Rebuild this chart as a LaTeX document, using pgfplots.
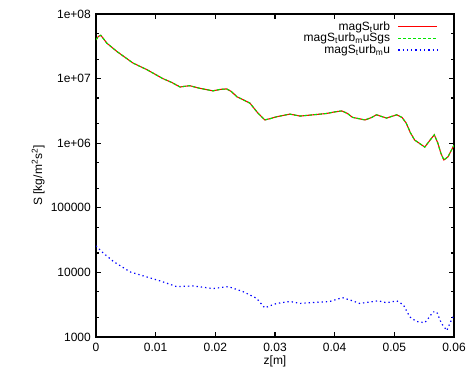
\documentclass[border=0pt]{standalone}
\usepackage{pgfplots}
\pgfplotsset{compat=1.18}
\usepackage{fontspec}
\setmainfont{Liberation Sans}
\begin{document}
\fontsize{12bp}{13bp}\selectfont
\begin{tikzpicture}
\begin{axis}[
  at={(0,0)}, anchor=south west,
  scale only axis, width=358bp, height=323bp,
  xmin=0, xmax=0.06, ymin=1000, ymax=1e8,
  ymode=log,
  scaled x ticks=false,
  axis line style={line width=1.6bp},
  every tick/.style={black, line width=1.2bp},
  major tick length=5bp, minor tick length=3bp,
  tick align=inside,
  xtick={0,0.01,0.02,0.03,0.04,0.05,0.06},
  xticklabels={0,0.01,0.02,0.03,0.04,0.05,0.06},
  ytick={1e3,1e4,1e5,1e6,1e7,1e8},
  yticklabels={1000,10000,100000,1e+06,1e+07,1e+08},
  minor ytick={2e3,5e3,2e4,5e4,2e5,5e5,2e6,5e6,2e7,5e7},
  /pgf/number format/assume math mode=true,
  ticklabel style={font=\fontsize{12bp}{13bp}\selectfont},
  xticklabel style={yshift=-2bp},
  yticklabel style={xshift=-1bp},
  xlabel={z[m]}, ylabel={S [kg/m\textsuperscript{2}s\textsuperscript{2}]},
  label style={font=\fontsize{12bp}{13bp}\selectfont},
  xlabel style={yshift=4bp},
  ylabel style={yshift=-2bp},
  legend plot pos=right,
  legend cell align=right,
  legend style={at={(1,1)}, anchor=north east, xshift=-13bp, yshift=-4bp,
    draw=none, fill=none, font=\fontsize{12bp}{12bp}\selectfont,
    row sep=-2bp, column sep=6bp, nodes={inner sep=1.5bp}},
  legend image code/.code={\draw[#1] (0bp,0bp) -- (39bp,0bp);},
]
\addplot[red, line width=1.1bp] coordinates {
(0.0000,3.98e7)(0.0004,4.50e7)(0.0008,4.68e7)(0.0013,4.10e7)(0.0018,3.55e7)(0.0035,2.63e7)(0.0062,1.74e7)
(0.0085,1.38e7)(0.0112,1.00e7)(0.0127,8.71e6)(0.0141,7.41e6)(0.0149,7.60e6)(0.0157,7.76e6)
(0.0174,7.08e6)(0.0196,6.46e6)(0.0208,6.80e6)(0.0219,6.92e6)(0.0227,6.30e6)(0.0236,5.25e6)(0.0258,4.17e6)
(0.0271,2.95e6)(0.0283,2.29e6)(0.0292,2.40e6)(0.0303,2.57e6)(0.0325,2.82e6)(0.0342,2.63e6)
(0.0386,2.88e6)(0.0400,3.05e6)(0.0412,3.16e6)(0.0421,2.90e6)(0.0430,2.51e6)(0.0451,2.29e6)(0.0462,2.50e6)(0.0470,2.75e6)
(0.0487,2.45e6)(0.0504,2.75e6)(0.0513,2.50e6)(0.0520,2.04e6)(0.0527,1.45e6)(0.0534,1.12e6)(0.0551,8.71e5)
(0.0561,1.15e6)(0.0567,1.35e6)(0.0573,1.00e6)(0.0578,7.00e5)(0.0583,5.50e5)(0.0590,6.17e5)(0.0600,9.33e5)
};
\addlegendentry{magS\textsubscript{t}urb}
\addplot[green!90!black, line width=1.1bp, dash pattern=on 3bp off 2bp] coordinates {
(0.0000,3.98e7)(0.0004,4.50e7)(0.0008,4.68e7)(0.0013,4.10e7)(0.0018,3.55e7)(0.0035,2.63e7)(0.0062,1.74e7)
(0.0085,1.38e7)(0.0112,1.00e7)(0.0127,8.71e6)(0.0141,7.41e6)(0.0149,7.60e6)(0.0157,7.76e6)
(0.0174,7.08e6)(0.0196,6.46e6)(0.0208,6.80e6)(0.0219,6.92e6)(0.0227,6.30e6)(0.0236,5.25e6)(0.0258,4.17e6)
(0.0271,2.95e6)(0.0283,2.29e6)(0.0292,2.40e6)(0.0303,2.57e6)(0.0325,2.82e6)(0.0342,2.63e6)
(0.0386,2.88e6)(0.0400,3.05e6)(0.0412,3.16e6)(0.0421,2.90e6)(0.0430,2.51e6)(0.0451,2.29e6)(0.0462,2.50e6)(0.0470,2.75e6)
(0.0487,2.45e6)(0.0504,2.75e6)(0.0513,2.50e6)(0.0520,2.04e6)(0.0527,1.45e6)(0.0534,1.12e6)(0.0551,8.71e5)
(0.0561,1.15e6)(0.0567,1.35e6)(0.0573,1.00e6)(0.0578,7.00e5)(0.0583,5.50e5)(0.0590,6.17e5)(0.0600,9.33e5)
};
\addlegendentry{magS\textsubscript{t}urb\textsubscript{m}uSgs}
\addplot[blue, line width=1.2bp, dash pattern=on 1.3bp off 3bp] coordinates {
(0.0000,2.57e4)(0.0012,2.00e4)(0.0029,1.48e4)(0.0057,1.02e4)(0.0085,8.51e3)
(0.0107,7.41e3)(0.0135,6.03e3)(0.0163,6.17e3)(0.0196,5.62e3)(0.0222,6.03e3)
(0.0247,5.01e3)(0.0269,3.98e3)(0.0283,2.82e3)(0.0292,3.05e3)(0.0303,3.31e3)(0.0325,3.55e3)
(0.0342,3.31e3)(0.0392,3.55e3)(0.0413,4.07e3)(0.0427,3.70e3)(0.0442,3.31e3)(0.0473,3.63e3)
(0.0487,3.39e3)(0.0504,3.63e3)(0.0515,3.16e3)(0.0526,2.04e3)(0.0537,1.74e3)
(0.0551,1.66e3)(0.0558,2.00e3)(0.0565,2.45e3)(0.0571,2.45e3)(0.0579,1.62e3)(0.0588,1.26e3)
(0.0593,1.62e3)(0.0600,2.19e3)
};
\addlegendentry{magS\textsubscript{t}urb\textsubscript{m}u}
\end{axis}
\pgfresetboundingbox
\useasboundingbox (-96bp,-45bp) rectangle (371bp,337bp);
\end{tikzpicture}
\end{document}
